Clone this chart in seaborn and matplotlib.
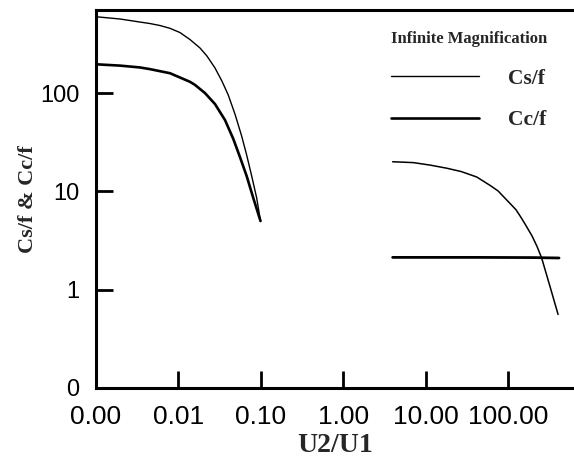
import matplotlib
matplotlib.use('Agg')
import matplotlib.pyplot as plt
from matplotlib.ticker import FixedLocator, FormatStrFormatter, NullLocator
from matplotlib.font_manager import FontProperties
import seaborn as sns

# U2/U1 < 0.1 branch
u_ratio_cs_low = [0.001, 0.00196, 0.00342, 0.00452, 0.00598, 0.00791, 0.01046,
                  0.01383, 0.0183, 0.0222, 0.0278, 0.0338, 0.0403, 0.0486,
                  0.0586, 0.0674, 0.0776, 0.0892, 0.0992]
cs_low = [597, 566, 527, 509, 486, 455, 412, 350, 287, 238, 180, 132, 95.4,
          61.1, 36.5, 23.4, 14.3, 8.55, 4.99]

u_ratio_cc_low = [0.001, 0.00196, 0.00342, 0.00452, 0.00791, 0.01383, 0.0159,
                  0.0210, 0.0278, 0.0368, 0.0464, 0.0559, 0.0674, 0.0811, 0.0992]
cc_low = [196, 190, 182, 175, 159, 130, 121, 100, 77.3, 53.1, 34.1, 22.3,
          14.3, 8.55, 4.99]

# U2/U1 > 1 branch
u_ratio_cs_high = [3.98, 7.1, 11.3, 18, 27, 41.7, 60.5, 75.7, 96, 125, 142,
                   161, 196, 225, 256, 324, 405]
cs_high = [20.0, 19.6, 18.5, 17.2, 15.9, 14.0, 11.5, 10.1, 8.2, 6.5, 5.52,
           4.65, 3.51, 2.75, 2.1, 1.07, 0.56]
u_ratio_cc_high = [3.98, 40, 200, 416]
cc_high = [2.13, 2.13, 2.12, 2.10]

x_ticks = [0.001, 0.01, 0.1, 1, 10, 100]
y_ticks = [0.1, 1, 10, 100]

sns.set_style('white')
plt.rcParams['font.family'] = ['Liberation Sans', 'DejaVu Sans']

fig = plt.figure(figsize=(5.74, 4.57), dpi=100)
ax = fig.add_axes([0.1672, 0.151, 0.8328, 0.827])

# curves
sns.lineplot(x=u_ratio_cs_low, y=cs_low, ax=ax, color='black', lw=1.0, label='Cs/f')
sns.lineplot(x=u_ratio_cc_low, y=cc_low, ax=ax, color='black', lw=1.9, label='Cc/f')
sns.lineplot(x=u_ratio_cs_high, y=cs_high, ax=ax, color='black', lw=1.1, label='_nolegend_')
sns.lineplot(x=u_ratio_cc_high, y=cc_high, ax=ax, color='black', lw=2.0, label='_nolegend_')

ax.set_xscale('log')
ax.set_yscale('log')
ax.set_xlim(0.001, 632)
ax.set_ylim(0.1, 698)

ax.xaxis.set_major_locator(FixedLocator(x_ticks))
ax.yaxis.set_major_locator(FixedLocator(y_ticks))
ax.xaxis.set_minor_locator(NullLocator())
ax.yaxis.set_minor_locator(NullLocator())
ax.xaxis.set_major_formatter(FormatStrFormatter('%.2f'))
ax.yaxis.set_major_formatter(FormatStrFormatter('%.0f'))

ax.tick_params(bottom=True, left=True, top=False, right=False)
ax.tick_params(axis='x', direction='in', length=12.5, width=2.0, pad=12,
               labelsize=19, colors='black')
ax.tick_params(axis='y', direction='in', length=12.5, width=2.0, pad=12,
               labelsize=17, colors='black')

for side in ['left', 'bottom', 'top']:
    ax.spines[side].set_linewidth(2.2)
    ax.spines[side].set_color('black')
ax.spines['right'].set_visible(False)

label_font = dict(family='Liberation Serif', weight='bold')
ax.set_xlabel('U2/U1', fontsize=20, **label_font)
ax.set_ylabel('Cs/f & Cc/f', fontsize=16, **label_font)
ax.xaxis.set_label_coords(0.5, -0.119)
ax.yaxis.set_label_coords(-0.122, 0.5)

leg = ax.legend(title='Infinite Magnification', loc='upper left',
                bbox_to_anchor=(391 / 574, 1 - 31 / 457),
                bbox_transform=fig.transFigure, frameon=False,
                borderpad=0, borderaxespad=0, handlelength=4.1,
                handletextpad=1.35, labelspacing=1.0, alignment='left',
                prop=FontProperties(family='Liberation Serif', weight='bold', size=15.5),
                title_fontproperties=FontProperties(family='Liberation Serif', weight='bold', size=12))

fig.savefig('out.png', dpi=100)
